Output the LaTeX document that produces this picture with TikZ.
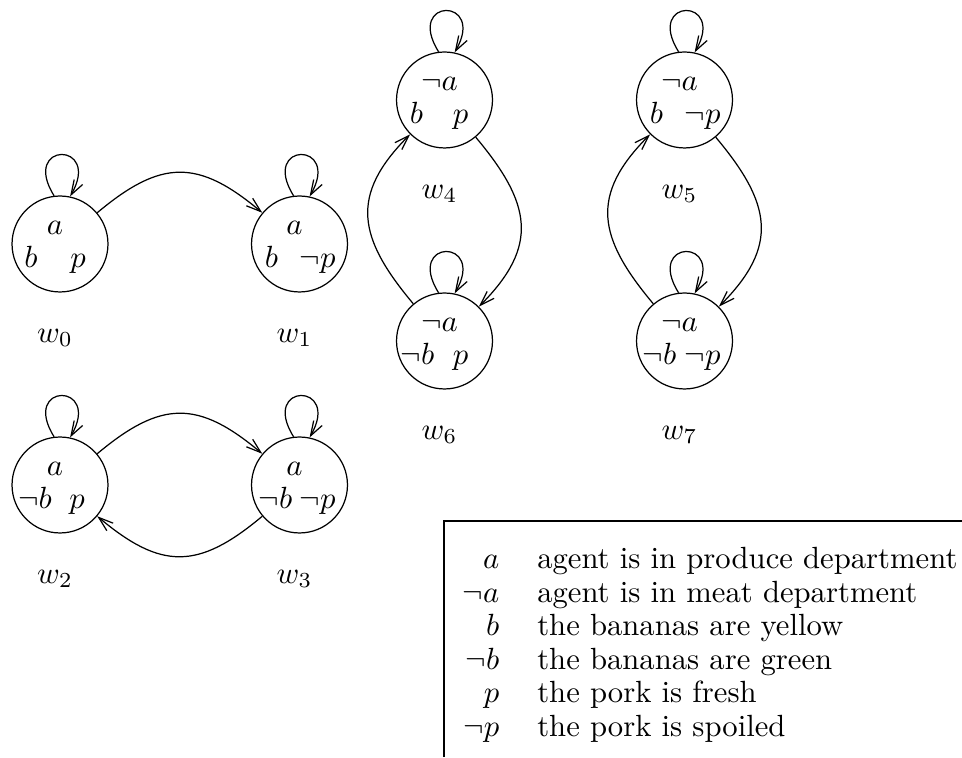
\documentclass[tikz,border=0pt]{standalone}
\usetikzlibrary{arrows.meta}

\tikzset{
  world/.style={circle, draw, minimum size=31.3pt, inner sep=0pt},
  prop/.style={anchor=base, inner sep=0pt},
  wlabel/.style={inner sep=0pt},
  reflexive/.style={out=122, in=60, min distance=21pt}
}

\begin{document}
\begin{tikzpicture}[x=0.3262pt, y=0.3262pt, >={Straight Barb[length=4.8pt,width=3.2pt]}]
        \useasboundingbox (0,0) rectangle (962,757);

        % Worlds with produce department
        \node[world] (w0) at (60,513) {};
        \node[prop] at ([shift={(-5,9)}]w0) {$a$};
        \node[prop] at ([shift={(-29,-24)}]w0) {$b$};
        \node[prop] at ([shift={(18,-24)}]w0) {$p$};
        \node[wlabel] at ([shift={(-5,-94)}]w0) {$w_0$};

        \node[world] (w1) at (299.5,513) {};
        \node[prop] at ([shift={(-5,9)}]w1) {$a$};
        \node[prop] at ([shift={(-28,-24)}]w1) {$b$};
        \node[prop] at ([shift={(18,-24)}]w1) {$\neg p$};
        \node[wlabel] at ([shift={(-5,-94)}]w1) {$w_1$};

        \node[world] (w2) at (60,272) {};
        \node[prop] at ([shift={(-5,9)}]w2) {$a$};
        \node[prop] at ([shift={(-25,-24)}]w2) {$\neg b$};
        \node[prop] at ([shift={(17,-24)}]w2) {$p$};
        \node[wlabel] at ([shift={(-5,-94)}]w2) {$w_2$};

        \node[world] (w3) at (299.5,272) {};
        \node[prop] at ([shift={(-5,9)}]w3) {$a$};
        \node[prop] at ([shift={(-24,-24)}]w3) {$\neg b$};
        \node[prop] at ([shift={(18,-24)}]w3) {$\neg p$};
        \node[wlabel] at ([shift={(-5,-94)}]w3) {$w_3$};

        % Worlds with meat department
        \node[world] (w4) at (444.5,657) {};
        \node[prop] at ([shift={(-5,9)}]w4) {$\neg a$};
        \node[prop] at ([shift={(-28,-24)}]w4) {$b$};
        \node[prop] at ([shift={(16,-24)}]w4) {$p$};
        \node[wlabel] at ([shift={(-5,-94)}]w4) {$w_4$};

        \node[world] (w5) at (684.5,657) {};
        \node[prop] at ([shift={(-5,9)}]w5) {$\neg a$};
        \node[prop] at ([shift={(-28,-24)}]w5) {$b$};
        \node[prop] at ([shift={(18,-24)}]w5) {$\neg p$};
        \node[wlabel] at ([shift={(-5,-94)}]w5) {$w_5$};

        \node[world] (w6) at (444.5,416) {};
        \node[prop] at ([shift={(-5,9)}]w6) {$\neg a$};
        \node[prop] at ([shift={(-27,-24)}]w6) {$\neg b$};
        \node[prop] at ([shift={(16,-24)}]w6) {$p$};
        \node[wlabel] at ([shift={(-5,-94)}]w6) {$w_6$};

        \node[world] (w7) at (684.5,416) {};
        \node[prop] at ([shift={(-5,9)}]w7) {$\neg a$};
        \node[prop] at ([shift={(-25,-24)}]w7) {$\neg b$};
        \node[prop] at ([shift={(18,-24)}]w7) {$\neg p$};
        \node[wlabel] at ([shift={(-5,-94)}]w7) {$w_7$};

        % Reflexive loops
        \draw[->] (w0.97) to[reflexive] (w0.78);
        \draw[->] (w1.97) to[reflexive] (w1.78);
        \draw[->] (w2.97) to[reflexive] (w2.78);
        \draw[->] (w3.97) to[reflexive] (w3.78);
        \draw[->] (w4.97) to[reflexive] (w4.78);
        \draw[->] (w5.97) to[reflexive] (w5.78);
        \draw[->] (w6.97) to[reflexive] (w6.78);
        \draw[->] (w7.97) to[reflexive] (w7.78);

        % Transitions
        \draw[->] (w0) to[out=40, in=140, looseness=1.3] (w1);
        \draw[->] (w2) to[out=40, in=140, looseness=1.3] (w3);
        \draw[->] (w3) to[out=220, in=-40, looseness=1.3] (w2);
        \draw[->] (w4) to[out=-50, in=45, looseness=1.3] (w6);
        \draw[->] (w6) to[out=130, in=225, looseness=1.3] (w4);
        \draw[->] (w5) to[out=-50, in=45, looseness=1.3] (w7);
        \draw[->] (w7) to[out=130, in=225, looseness=1.3] (w5);

        % Legend
        \draw (444,0) |- (962,236);
        \node[anchor=base west, inner sep=0pt] (legend) at (462,188) {%
          \renewcommand{\arraystretch}{0.91}%
          \begin{tabular}[t]{@{}r@{\hspace{12.4pt}}l@{}}
            $a$      & agent is in produce department \\
            $\neg a$ & agent is in meat department \\
            $b$      & the bananas are yellow \\
            $\neg b$ & the bananas are green \\
            $p$      & the pork is fresh \\
            $\neg p$ & the pork is spoiled
          \end{tabular}};
    \end{tikzpicture}
\end{document}
